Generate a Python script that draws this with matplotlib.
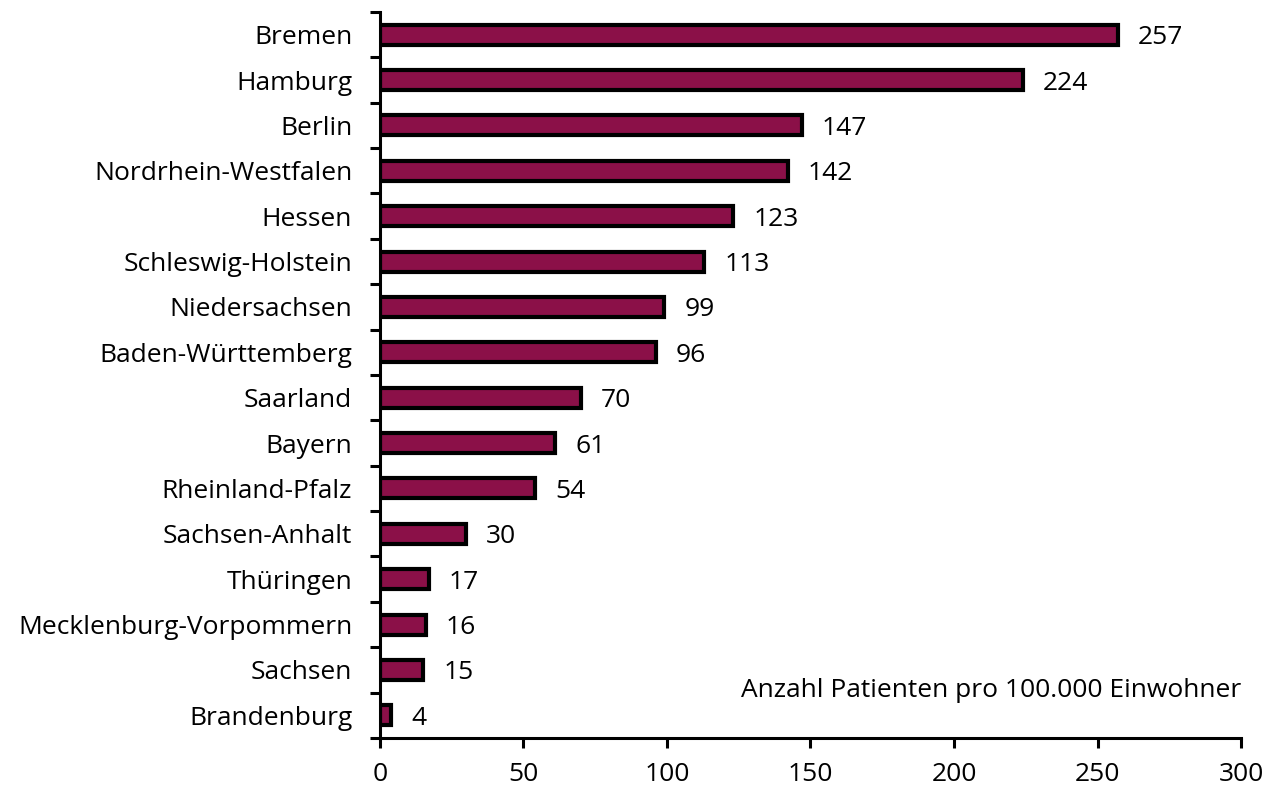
import matplotlib
matplotlib.use('Agg')
import matplotlib.pyplot as plt
import numpy as np

# --- DATA ---
states = ['Bremen', 'Hamburg', 'Berlin', 'Nordrhein-Westfalen', 'Hessen',
          'Schleswig-Holstein', 'Niedersachsen', 'Baden-Württemberg', 'Saarland',
          'Bayern', 'Rheinland-Pfalz', 'Sachsen-Anhalt', 'Thüringen',
          'Mecklenburg-Vorpommern', 'Sachsen', 'Brandenburg']
patients = [257, 224, 147, 142, 123, 113, 99, 96, 70, 61, 54, 30, 17, 16, 15, 4]
x_ticks = [0, 50, 100, 150, 200, 250, 300]
note = 'Anzahl Patienten pro 100.000 Einwohner'

BAR_COLOR = '#8B1048'
FS = 19
plt.rcParams['font.family'] = ['Open Sans', 'DejaVu Sans']

fig = plt.figure(figsize=(12.67, 7.87), dpi=100)
ax = fig.add_axes([0.2999, 0.0623, 0.6796, 0.9225])

y = np.arange(len(states))[::-1]
ax.barh(y, patients, height=0.44, color=BAR_COLOR, edgecolor='black', linewidth=3)

for yi, v in zip(y, patients):
    ax.text(v + 7, yi, str(v), va='center_baseline', ha='left', fontsize=FS)

ax.set_xlim(0, 300)
ax.set_ylim(-0.5, len(states) - 0.5)
ax.set_xticks(x_ticks)
ax.set_xticklabels([str(t) for t in x_ticks], fontsize=FS)
ax.set_yticks(y)
ax.set_yticklabels(states, fontsize=FS, va='center_baseline')
ax.tick_params(axis='y', length=0, pad=20)
ax.set_yticks(np.arange(-0.5, len(states), 1.0), minor=True)
ax.tick_params(axis='y', which='minor', length=7, width=2.2, direction='out')
ax.tick_params(axis='x', length=7, width=2.2, direction='out', pad=10)

for side in ['top', 'right']:
    ax.spines[side].set_visible(False)
for side in ['left', 'bottom']:
    ax.spines[side].set_linewidth(2.2)

ax.text(1.0, 0.07, note, transform=ax.transAxes, ha='right', va='center_baseline', fontsize=FS)

fig.savefig('out.png', dpi=100)
